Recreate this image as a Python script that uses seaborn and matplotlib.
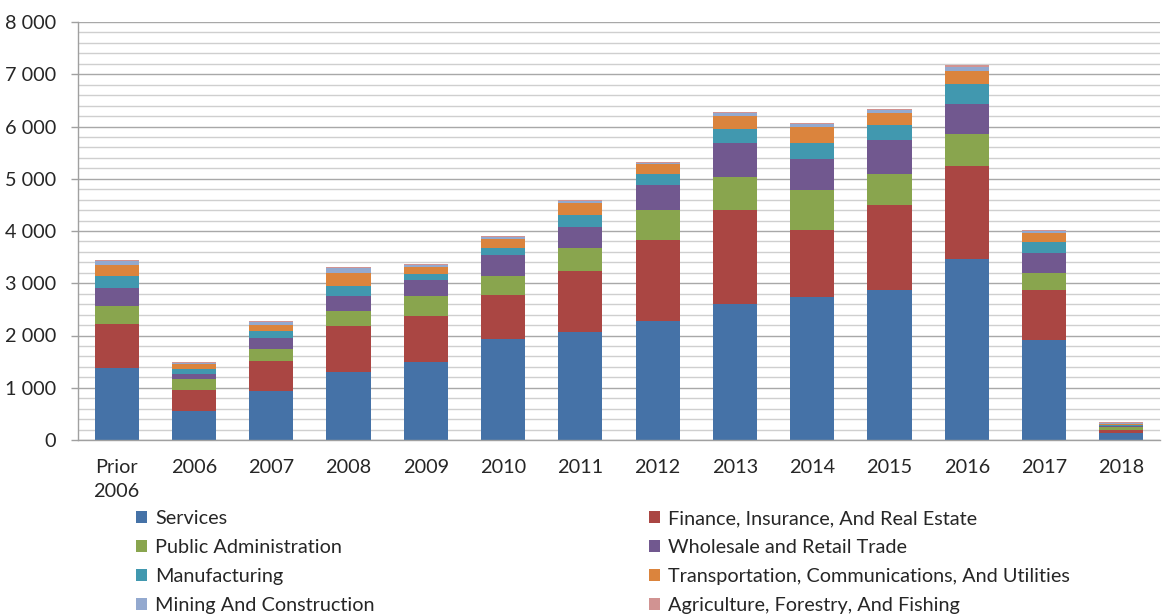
import matplotlib
matplotlib.use("Agg")
import matplotlib.pyplot as plt
from matplotlib.ticker import FuncFormatter, MultipleLocator
from matplotlib.patches import Patch
import numpy as np
import seaborn as sns

categories = ["Prior\n2006", "2006", "2007", "2008", "2009", "2010", "2011",
              "2012", "2013", "2014", "2015", "2016", "2017", "2018"]

services      = [1370, 550, 930, 1310, 1490, 1930, 2070, 2285, 2610, 2745, 2870, 3465, 1910, 135]
finance       = [855, 400, 580, 880, 875, 850, 1170, 1540, 1790, 1275, 1625, 1775, 960, 65]
public_admin  = [340, 215, 235, 275, 400, 360, 440, 575, 630, 760, 600, 620, 330, 50]
wholesale     = [345, 100, 205, 300, 300, 400, 400, 485, 645, 600, 640, 580, 370, 25]
manufacturing = [235, 85, 135, 185, 115, 140, 220, 215, 275, 300, 290, 375, 210, 20]
transport     = [210, 95, 115, 255, 135, 160, 235, 185, 260, 320, 225, 255, 180, 20]
mining        = [70, 20, 50, 80, 30, 40, 45, 25, 40, 40, 60, 75, 40, 12]
agriculture   = [20, 25, 25, 25, 20, 20, 20, 15, 25, 20, 20, 25, 20, 10]

series_names = ["Services", "Finance, Insurance, And Real Estate", "Public Administration",
                "Wholesale and Retail Trade", "Manufacturing",
                "Transportation, Communications, And Utilities",
                "Mining And Construction", "Agriculture, Forestry, And Fishing"]
series_values = [services, finance, public_admin, wholesale, manufacturing,
                 transport, mining, agriculture]
colors = ["#4572A7", "#AA4643", "#89A54E", "#71588F", "#4198AF", "#DB843D",
          "#93A9CF", "#D19392"]

y_ticks = [0, 1000, 2000, 3000, 4000, 5000, 6000, 7000, 8000]

sns.set_theme(style="white")
plt.rcParams["font.family"] = ["Lato", "DejaVu Sans"]

FS = 14.3

fig = plt.figure(figsize=(11.64, 6.15), dpi=100)
ax = fig.add_axes([78/1164, 1-440/615, (1160-78)/1164, (440-22)/615])

bottom = np.zeros(len(categories))
for name, vals, col in zip(series_names, series_values, colors):
    sns.barplot(x=categories, y=vals, bottom=bottom, color=col, saturation=1,
                width=0.57, ax=ax, label=name, order=categories,
                edgecolor="none", linewidth=0)
    bottom = bottom + np.array(vals)

ax.set_xlim(-0.5, len(categories) - 0.5)
ax.set_ylim(y_ticks[0], y_ticks[-1])
ax.set_yticks(y_ticks)
ax.yaxis.set_minor_locator(MultipleLocator(200))
ax.yaxis.set_major_formatter(FuncFormatter(lambda v, p: f"{int(v):,}".replace(",", " ")))

ax.grid(axis="y", which="minor", color="#CFCFCF", lw=1.0)
ax.grid(axis="y", which="major", color="#A8A8A8", lw=1.0)
ax.grid(axis="x", which="both", visible=False)
ax.set_axisbelow(True)

for s in ["top", "right"]:
    ax.spines[s].set_visible(False)
ax.spines["left"].set_color("#A0A0A0")
ax.spines["bottom"].set_color("#A0A0A0")
ax.spines["left"].set_linewidth(1.0)
ax.spines["bottom"].set_linewidth(1.0)

ax.tick_params(axis="y", which="major", length=5, width=1, color="#A0A0A0",
               direction="out", left=True, pad=11, labelsize=FS, labelcolor="#262626")
ax.tick_params(axis="y", which="minor", length=0)
ax.tick_params(axis="x", length=0, pad=14, labelsize=FS, labelcolor="#262626")
for lbl in ax.get_xticklabels():
    lbl.set_verticalalignment("top")
    lbl.set_linespacing(1.45)
ax.set_xlabel("")
ax.set_ylabel("")

if ax.get_legend():
    ax.get_legend().remove()

handles = [Patch(facecolor=c, edgecolor="none") for c in colors]
leg_kw = dict(frameon=False, fontsize=FS, handlelength=0.55, handleheight=0.55,
              handletextpad=0.4, labelspacing=0.61, borderaxespad=0, borderpad=0,
              labelcolor="#262626")
leg1 = fig.legend([handles[i] for i in (0, 2, 4, 6)],
                  [series_names[i] for i in (0, 2, 4, 6)],
                  loc="upper left", bbox_to_anchor=(136/1164, 1-510/615), **leg_kw)
leg2 = fig.legend([handles[i] for i in (1, 3, 5, 7)],
                  [series_names[i] for i in (1, 3, 5, 7)],
                  loc="upper left", bbox_to_anchor=(649/1164, 1-510/615), **leg_kw)

fig.savefig("out.png", dpi=100)
